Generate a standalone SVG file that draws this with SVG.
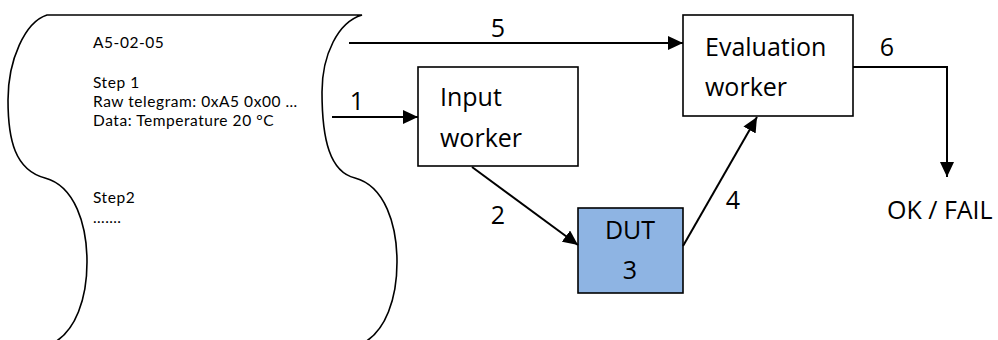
<svg xmlns="http://www.w3.org/2000/svg" width="998" height="340" viewBox="0 0 998 340">
<style>
.shape{fill:#fff;stroke:#000;stroke-width:1.6}
.box{fill:#fff;stroke:#000;stroke-width:1.6}
.dut{fill:#8EB4E3;stroke:#000;stroke-width:1.6}
.small{font-family:Lato,"Open Sans","Liberation Sans",sans-serif;font-size:15.5px;letter-spacing:0.55px;fill:#000}
.big{font-family:"Open Sans","Liberation Sans",sans-serif;font-size:25px;fill:#000}
.conn{fill:none;stroke:#000;stroke-width:2}
</style>
<defs>
<marker id="ah" markerUnits="userSpaceOnUse" markerWidth="16" markerHeight="14" refX="15" refY="7" orient="auto">
<path d="M0,0 L15,7 L0,14 z" fill="#000"/>
</marker>
</defs>
<g id="scroll">
<path class="shape" d="M47,15 L362,15 C338,22 322,55 322,92 C322,140 330,172 355,178 C385,186 397,225 397,262 C397,300 385,330 365,342 L55,342 C75,330 87,300 87,262 C87,225 75,186 45,178 C15,170 8,140 8,100 C8,60 25,22 47,15 Z"/>
<text class="small" x="93" y="48">A5-02-05</text>
<text class="small" x="93" y="88">Step 1</text>
<text class="small" x="93" y="107">Raw telegram: 0xA5 0x00 …</text>
<text class="small" x="93" y="126">Data: Temperature 20 °C</text>
<text class="small" x="93" y="203">Step2</text>
<text class="small" x="93" y="223">…….</text>
</g>
<g id="input-worker">
<rect class="box" x="418" y="67" width="160" height="99"/>
<text class="big" x="440" y="106">Input</text>
<text class="big" x="440" y="147">worker</text>
</g>
<g id="dut">
<rect class="dut" x="578" y="208" width="105" height="85"/>
<text class="big" x="630" y="239" text-anchor="middle">DUT</text>
<text class="big" x="630" y="279" text-anchor="middle">3</text>
</g>
<g id="evaluation-worker">
<rect class="box" x="683" y="15" width="170" height="101"/>
<text class="big" x="705" y="56">Evaluation</text>
<text class="big" x="705" y="96">worker</text>
</g>
<g id="result">
<text class="big" x="887" y="219">OK / FAIL</text>
</g>
<g id="connectors">
<line class="conn" x1="332" y1="117" x2="418" y2="117" marker-end="url(#ah)"/>
<text class="big" x="357" y="110" text-anchor="middle">1</text>
<line class="conn" x1="472" y1="167" x2="578" y2="245" marker-end="url(#ah)"/>
<text class="big" x="498" y="224" text-anchor="middle">2</text>
<line class="conn" x1="683" y1="246" x2="757" y2="117" marker-end="url(#ah)"/>
<text class="big" x="733" y="209" text-anchor="middle">4</text>
<line class="conn" x1="349" y1="43" x2="683" y2="43" marker-end="url(#ah)"/>
<text class="big" x="498" y="37" text-anchor="middle">5</text>
<polyline class="conn" points="853,67 947,67 947,177" marker-end="url(#ah)"/>
<text class="big" x="887" y="56" text-anchor="middle">6</text>
</g>
</svg>
